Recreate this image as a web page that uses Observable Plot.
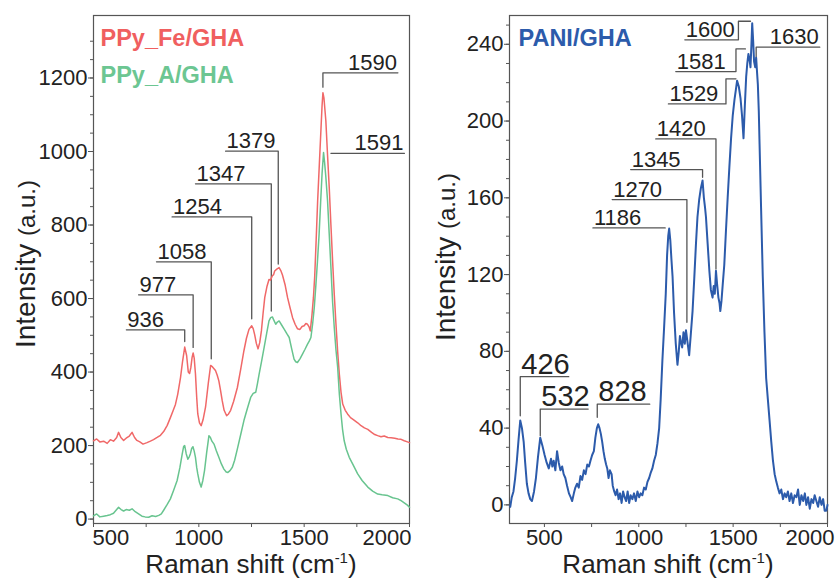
<!DOCTYPE html>
<html>
<head>
<meta charset="utf-8">
<script src="https://cdn.jsdelivr.net/npm/d3@7"></script>
<script src="https://cdn.jsdelivr.net/npm/@observablehq/plot@0.6"></script>
<style>
  html, body { margin: 0; padding: 0; background: #fff; }
  #wrap { display: flex; width: 839px; height: 578px; overflow: hidden; }
  svg { overflow: visible; }
</style>
</head>
<body>
<div id="wrap"></div>
<script>
// ---------------- DATA ----------------
// PPy_Fe/GHA  [Raman shift, intensity]
const ppyFe = [[500,213],[515,218],[530,210],[548,212],[565,206],[580,216],[595,212],[610,222],[619,236],[630,222],[643,214],[655,220],[670,226],[683,236],[695,222],[706,214],[720,210],[735,204],[754,208],[770,212],[785,216],[802,222],[818,228],[833,238],[850,255],[865,276],[880,298],[889,312],[900,340],[913,385],[923,430],[933,468],[942,445],[950,400],[956,396],[962,412],[968,440],[973,452],[978,438],[984,395],[990,330],[995,286],[1003,262],[1011,254],[1020,270],[1032,305],[1045,370],[1056,418],[1065,414],[1079,404],[1087,392],[1095,376],[1103,350],[1111,322],[1120,296],[1132,281],[1141,286],[1151,296],[1165,320],[1183,358],[1198,405],[1214,458],[1226,492],[1238,516],[1251,526],[1258,518],[1265,502],[1273,478],[1281,463],[1289,480],[1297,512],[1305,560],[1313,603],[1323,632],[1333,652],[1340,650],[1349,662],[1355,665],[1360,675],[1370,680],[1381,684],[1389,676],[1397,664],[1410,636],[1421,603],[1433,575],[1445,548],[1457,530],[1468,518],[1480,516],[1490,524],[1500,526],[1508,532],[1516,530],[1524,522],[1529,512],[1537,555],[1544,603],[1550,660],[1557,760],[1564,866],[1572,965],[1580,1064],[1585,1125],[1589,1160],[1594,1145],[1603,1083],[1611,990],[1619,902],[1627,800],[1635,702],[1643,610],[1651,530],[1659,455],[1667,394],[1675,345],[1683,313],[1695,296],[1706,286],[1720,276],[1735,270],[1754,262],[1770,254],[1786,248],[1802,244],[1820,236],[1835,230],[1849,227],[1865,224],[1880,226],[1897,222],[1913,221],[1930,220],[1945,218],[1960,217],[1975,213],[1990,210],[2000,208]];

// PPy_A/GHA
const ppyA = [[500,9],[515,14],[530,6],[548,8],[565,10],[580,12],[595,16],[607,24],[619,32],[631,26],[643,22],[655,26],[670,24],[683,28],[698,20],[714,14],[730,8],[745,6],[762,5],[778,9],[795,7],[810,10],[822,14],[833,24],[850,40],[865,55],[880,78],[897,105],[910,140],[921,177],[928,198],[933,200],[940,178],[948,163],[955,170],[960,178],[966,192],[972,197],[978,185],[984,168],[990,140],[995,123],[1003,100],[1011,87],[1019,105],[1027,132],[1037,180],[1048,227],[1055,222],[1062,212],[1072,204],[1083,186],[1095,168],[1107,150],[1119,136],[1130,128],[1138,127],[1148,132],[1159,141],[1170,160],[1183,191],[1198,228],[1214,268],[1230,300],[1246,331],[1258,342],[1270,345],[1278,368],[1286,394],[1298,430],[1310,467],[1322,505],[1333,539],[1341,548],[1349,550],[1357,540],[1365,530],[1373,536],[1381,539],[1393,528],[1405,517],[1417,505],[1429,494],[1440,465],[1452,435],[1460,428],[1468,426],[1480,436],[1492,449],[1504,462],[1516,476],[1524,484],[1532,494],[1540,530],[1548,576],[1556,640],[1563,700],[1571,776],[1578,860],[1585,940],[1592,997],[1597,970],[1603,930],[1611,866],[1619,775],[1627,684],[1635,590],[1643,520],[1651,460],[1659,413],[1667,340],[1675,286],[1682,245],[1690,213],[1700,190],[1714,168],[1730,150],[1754,123],[1775,105],[1802,87],[1825,76],[1849,68],[1870,66],[1897,64],[1920,58],[1944,55],[1960,50],[1975,44],[1990,38],[2000,32]];

// PANI/GHA
const pani = [[319,-1],[327,4],[336,7],[345,14],[354,23],[363,34],[372,44],[381,40],[390,33],[398,22],[407,11],[416,6],[425,3],[434,2],[445,7],[455,14],[466,25],[478,35],[489,31],[501,26],[512,22],[523,19],[535,24],[542,20],[549,23],[558,18],[567,28],[576,22],[585,18],[594,20],[602,16],[611,14],[620,10],[630,6],[639,4],[647,2],[656,6],[664,9],[673,11],[682,9],[691,15],[700,13],[709,18],[718,16],[727,21],[736,20],[744,23],[753,26],[762,28],[770,35],[778,40],[785,42],[792,40],[799,37],[806,33],[813,28],[820,24],[827,21],[833,19],[840,14],[847,18],[856,16],[862,10],[870,7],[877,5],[885,8],[893,3],[901,6],[909,1],[917,7],[925,4],[933,2],[941,7],[949,1],[957,5],[966,3],[975,6],[984,2],[993,7],[1002,4],[1010,6],[1019,5],[1028,9],[1037,8],[1046,12],[1055,14],[1064,17],[1072,19],[1081,23],[1090,26],[1099,32],[1108,40],[1116,55],[1125,75],[1134,92],[1143,110],[1150,130],[1156,140],[1161,144],[1167,138],[1173,128],[1179,119],[1187,100],[1196,84],[1205,73],[1212,80],[1218,88],[1223,85],[1230,82],[1237,90],[1244,84],[1250,91],[1258,85],[1267,78],[1275,88],[1285,101],[1294,118],[1303,136],[1311,150],[1320,159],[1329,165],[1338,169],[1345,160],[1351,155],[1356,150],[1365,136],[1374,122],[1382,112],[1391,108],[1397,114],[1403,110],[1409,122],[1415,115],[1422,108],[1428,105],[1432,101],[1438,106],[1445,115],[1453,125],[1462,143],[1471,160],[1480,176],[1489,191],[1498,203],[1507,211],[1514,216],[1521,221],[1530,218],[1539,212],[1547,203],[1555,191],[1562,208],[1569,223],[1575,230],[1581,235],[1587,232],[1592,228],[1597,240],[1601,251],[1606,242],[1611,231],[1617,228],[1622,233],[1627,225],[1631,219],[1636,205],[1640,188],[1648,155],[1657,119],[1666,90],[1675,66],[1684,55],[1693,44],[1702,33],[1711,23],[1720,16],[1729,12],[1737,9],[1746,6],[1755,8],[1764,3],[1773,6],[1781,4],[1790,7],[1799,2],[1808,6],[1817,1],[1826,5],[1835,4],[1844,8],[1853,0],[1862,5],[1871,2],[1880,6],[1888,0],[1897,4],[1906,-2],[1915,3],[1924,1],[1932,5],[1941,2],[1950,-1],[1959,4],[1968,0],[1977,3],[1985,-3],[1994,-3],[2000,0]];

// Peak annotations: label, text side, leader path in data coordinates (first point = text anchor)
const leftPeaks = [
  {label: "936",  side: "start", path: [[656,515],[933,515],[933,483]]},
  {label: "977",  side: "start", path: [[714,610],[973,610],[973,467]]},
  {label: "1058", side: "start", path: [[799,700],[1059,700],[1059,436]]},
  {label: "1254", side: "start", path: [[873,822],[1251,822],[1251,545]]},
  {label: "1347", side: "start", path: [[984,912],[1344,912],[1344,566]]},
  {label: "1379", side: "start", path: [[1127,1001],[1377,1001],[1377,694]]},
  {label: "1590", side: "end",   path: [[1945,1214],[1589,1214],[1589,1175]]},
  {label: "1591", side: "end",   path: [[1976,995],[1627,995]]}
];
const rightPeaks = [
  {label: "426",  side: "start", big: true, path: [[372,66.8],[629,66.8],[372,66.8],[372,46.4]]},
  {label: "532",  side: "start", big: true, path: [[478,49.9],[732,49.9],[478,49.9],[478,36]]},
  {label: "828",  side: "start", big: true, path: [[780,52.5],[1058,52.5],[780,52.5],[780,45.6]]},
  {label: "1186", side: "start", path: [[757,144.3],[1140,144.3]]},
  {label: "1270", side: "start", path: [[859,159.1],[1255,159.1],[1255,95.1]]},
  {label: "1345", side: "start", path: [[957,174.7],[1338,174.7],[1338,170.7]]},
  {label: "1420", side: "start", path: [[1090,190.7],[1409,190.7],[1409,122.9]]},
  {label: "1529", side: "start", path: [[1157,208.9],[1462,208.9],[1462,222],[1515,222]]},
  {label: "1581", side: "start", path: [[1196,225.8],[1515,225.8],[1515,237.6],[1565,237.6]]},
  {label: "1600", side: "start", path: [[1244,242.3],[1528,242.3],[1528,252],[1592,252]]},
  {label: "1630", side: "end",   path: [[1959,238.5],[1622,238.5],[1622,233.3]]}
];

const leftYTicks = [0, 200, 400, 600, 800, 1000, 1200];
const rightYTicks = [0, 40, 80, 120, 160, 200, 240];
const xTicks = [500, 1000, 1500, 2000];

// ---------------- DRAW ----------------
const FONT = "'Liberation Sans', Arial, Helvetica, sans-serif";
const INK = "#222";
const LEAD = "#555";
const fmt = d => String(d);

function leaderRows(peaks) {
  return peaks.flatMap(p => p.path.map(([x, y], i) => ({label: p.label, x, y, i})));
}
function anchorRows(peaks, side, big) {
  return peaks.filter(p => p.side === side && !!p.big === big)
    .map(p => ({label: p.label, x: p.path[0][0], y: p.path[0][1]}));
}
function peakMarks(peaks) {
  const m = [Plot.line(leaderRows(peaks), {x: "x", y: "y", z: "label", stroke: LEAD, strokeWidth: 1.3})];
  for (const side of ["start", "end"]) for (const big of [false, true]) {
    const rows = anchorRows(peaks, side, big);
    if (rows.length) m.push(Plot.text(rows, {x: "x", y: "y", text: "label", textAnchor: side,
      lineAnchor: "bottom", dy: -3, dx: side === "start" ? 1 : -1, fontSize: big ? 29 : 22, fill: INK}));
  }
  return m;
}

function panel({width, marginLeft, marginRight, xDomain, yDomain, yTicks, yMinor, series, legend, peaks, lastDx, yTitleY}) {
  const [x0] = xDomain;
  const firstIsEdge = xTicks[0] === x0;
  const common = {tickSize: 0, tickPadding: 5.5, fontSize: 22, label: null, fill: INK, tickFormat: fmt};
  const marks = [
    Plot.frame({stroke: "#555", strokeWidth: 1.2}),
    Plot.axisY({ticks: yMinor, tickSize: 3, text: null, label: null, stroke: "#555"}),
    Plot.axisY({ticks: yTicks, tickSize: 5, tickPadding: 1, fontSize: 22, label: null, fill: INK, stroke: "#555", tickFormat: fmt}),
    Plot.axisX({ticks: d3.range(500, 2001, 250).filter(t => t >= x0), tickSize: 4, text: null, label: null, stroke: "#555"}),
    Plot.axisX({...common, ticks: [1000, 1500]}),
    Plot.axisX({...common, ticks: [2000], textAnchor: "end", dx: lastDx}),
    firstIsEdge
      ? Plot.axisX({...common, ticks: [500], textAnchor: "start", dx: -1})
      : Plot.axisX({...common, ticks: [500]})
  ];
  marks.push(...peakMarks(peaks));
  for (const s of series) marks.push(Plot.line(s.data, {x: d => d[0], y: d => d[1], stroke: s.color, strokeWidth: s.width}));
  legend.forEach((l, i) => marks.push(Plot.text([l.name], {frameAnchor: "top-left", dx: l.dx, dy: 30 + i * 37,
    lineAnchor: "bottom", textAnchor: "start", fill: l.color, fontSize: 23.5, fontWeight: "bold", text: d => d})));

  const svg = Plot.plot({
    width, height: 578, marginLeft, marginRight, marginTop: 15, marginBottom: 55,
    style: {fontFamily: FONT, background: "white", overflow: "visible"},
    x: {domain: xDomain}, y: {domain: yDomain},
    marks
  });
  const s = d3.select(svg);
  const cx = marginLeft + (width - marginLeft - marginRight) / 2;
  const xt = s.append("text").attr("x", cx).attr("y", 572.5).attr("text-anchor", "middle")
    .attr("font-family", FONT).attr("font-size", 26).attr("fill", INK);
  xt.append("tspan").text("Raman shift (cm");
  xt.append("tspan").attr("font-size", 15).attr("dy", -10).text("-1");
  xt.append("tspan").attr("dy", 10).text(")");
  const yt = s.append("text").attr("transform", `translate(35,${yTitleY}) rotate(-90)`)
    .attr("text-anchor", "middle").attr("font-family", FONT).attr("fill", INK);
  yt.append("tspan").attr("font-size", 28).text("Intensity ");
  yt.append("tspan").attr("font-size", 24).text("(a.u.)");
  return svg;
}

const wrap = document.getElementById("wrap");
wrap.append(panel({
  width: 420, marginLeft: 93, marginRight: 11,
  xDomain: [500, 2000], yDomain: [-12, 1370],
  yTicks: leftYTicks, yMinor: d3.range(0, 1301, 50),
  series: [
    {data: ppyFe, color: "#f06868", width: 1.5},
    {data: ppyA, color: "#68c48f", width: 1.5}
  ],
  legend: [
    {name: "PPy_Fe/GHA", color: "#f05f5f", dx: 7},
    {name: "PPy_A/GHA", color: "#6cc692", dx: 7}
  ],
  peaks: leftPeaks, lastDx: 2, yTitleY: 264
}));
wrap.append(panel({
  width: 419, marginLeft: 89, marginRight: 12,
  xDomain: [315, 2000], yDomain: [-9.7, 255],
  yTicks: rightYTicks, yMinor: d3.range(0, 251, 10),
  series: [{data: pani, color: "#2c5bab", width: 2}],
  legend: [{name: "PANI/GHA", color: "#2c5bab", dx: 9}],
  peaks: rightPeaks, lastDx: 7, yTitleY: 257
}));
</script>
</body>
</html>
